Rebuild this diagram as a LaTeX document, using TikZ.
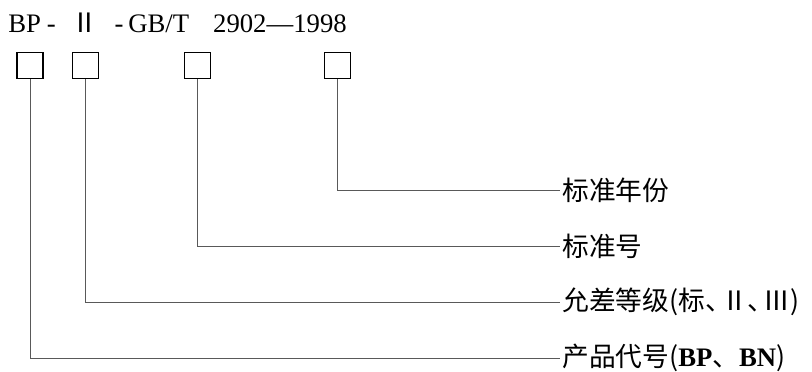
\documentclass[tikz,border=0pt]{standalone}
\usepackage{fontspec}
\setmainfont{Liberation Serif}
\newfontfamily\cjk{Noto Sans CJK SC}
\usetikzlibrary{positioning}

\begin{document}
\begin{tikzpicture}[x=0.025cm, y=-0.025cm, on grid, font=\fontsize{19}{22}\selectfont,
	code/.style={draw, line width=1pt, minimum size=0.65cm, inner sep=0pt},
	item/.style={inner sep=1.5pt, font=\cjk\fontsize{19}{22}\selectfont},
	lead/.style={draw=black!65, line width=0.7pt}]
	\useasboundingbox (0,0) rectangle (812,371);
	\node[anchor=west, inner sep=0pt] (name) at (8,23) {BP\hspace{0.15cm}-\hspace{0.4cm}{\cjk Ⅱ}\hspace{0.4cm}-\hspace{0.12cm}GB/T\hspace{0.6cm}2902—1998};
	
	\node[code] (prod) at (30,65.5) {};
	\node[code, right = 1.39cm of prod] (grade) {};
	\node[code, right = 2.8cm of grade] (std) {};
	\node[code, right = 3.49cm of std] (year) {};
	
	\node[item, anchor=west] (yeartext) at (560,190) {标准年份};
	\node[item, below = 1.4cm of yeartext.west, anchor=west] (stdtext) {标准号};
	\node[item, below = 1.4cm of stdtext.west, anchor=west] (gradetext) {允差等级(标、\hspace{-0.4em}Ⅱ、\hspace{-0.4em}Ⅲ)};
	\node[item, below = 1.4cm of gradetext.west, anchor=west] (prodtext) {产品代号({\rmfamily\bfseries BP}、{\rmfamily\bfseries BN})};
	
	\draw[lead] (year.south) |- (yeartext.west);
	\draw[lead] (std.south) |- (stdtext.west);
	\draw[lead] (grade.south) |- (gradetext.west);
	\draw[lead] (prod.south) |- (prodtext.west);
\end{tikzpicture}
\end{document}
